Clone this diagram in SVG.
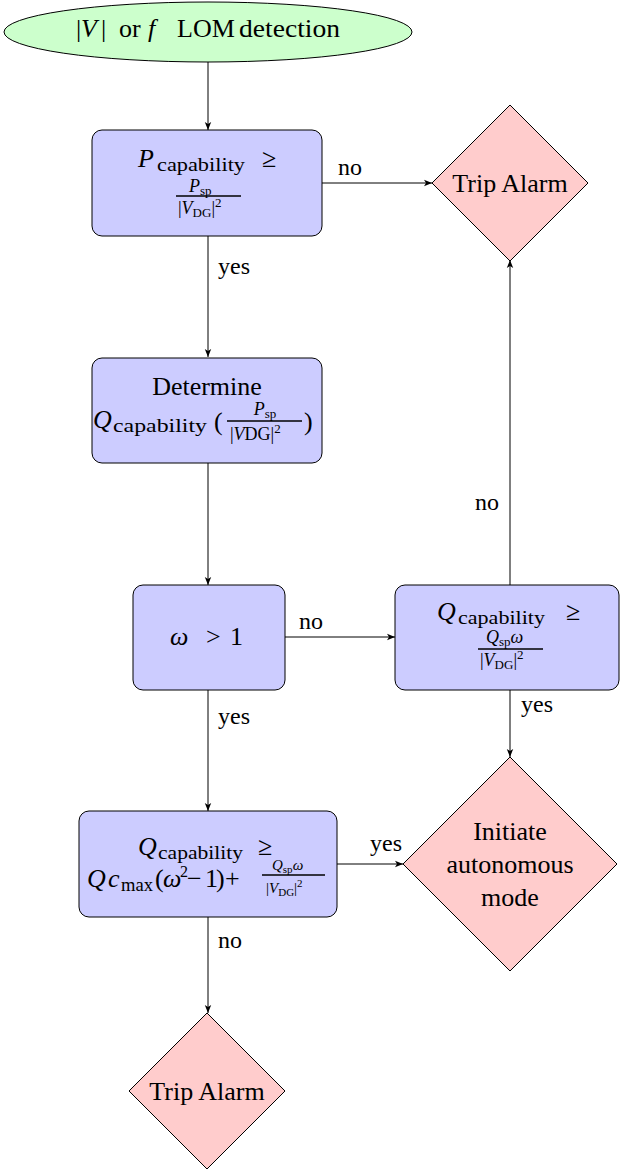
<svg xmlns="http://www.w3.org/2000/svg" width="621" height="1172" viewBox="0 0 621 1172">
<style>
.t{font-family:"Liberation Serif","Times New Roman",serif;font-size:26px;fill:#000}
.m{font-family:"Liberation Serif","Times New Roman",serif;fill:#000}
.i{font-style:italic}
.box{fill:#ccccff;stroke:#000;stroke-width:1}
.dia{fill:#ffcccc;stroke:#000;stroke-width:1}
.edge{fill:none;stroke:#000;stroke-width:1}
.bar{stroke:#000;stroke-width:1.4}
.lbl{font-family:"Liberation Serif","Times New Roman",serif;font-size:24px;fill:#000}
</style>
<defs>
<marker id="arr" viewBox="0 0 10 10" refX="10" refY="5" markerWidth="8" markerHeight="8" markerUnits="userSpaceOnUse" orient="auto">
<path d="M0,1 L10,5 L0,9 L2.5,5 Z" fill="#000"/>
</marker>
</defs>
<rect width="621" height="1172" fill="#fff"/>

<g id="connectors">
<path class="edge" d="M208,62 L208,130" marker-end="url(#arr)"/>
<path class="edge" d="M322,183 L432,183" marker-end="url(#arr)"/>
<text class="lbl" x="350" y="175" text-anchor="middle">no</text>
<path class="edge" d="M208,236 L208,357" marker-end="url(#arr)"/>
<text class="lbl" x="234" y="274" text-anchor="middle">yes</text>
<path class="edge" d="M208,463 L208,585" marker-end="url(#arr)"/>
<path class="edge" d="M285,637 L395,637" marker-end="url(#arr)"/>
<text class="lbl" x="311" y="629" text-anchor="middle">no</text>
<path class="edge" d="M510,585 L510,260" marker-end="url(#arr)"/>
<text class="lbl" x="487" y="510" text-anchor="middle">no</text>
<path class="edge" d="M510,690 L510,757" marker-end="url(#arr)"/>
<text class="lbl" x="537" y="712" text-anchor="middle">yes</text>
<path class="edge" d="M208,690 L208,811" marker-end="url(#arr)"/>
<text class="lbl" x="234" y="724" text-anchor="middle">yes</text>
<path class="edge" d="M337,864 L403,864" marker-end="url(#arr)"/>
<text class="lbl" x="386" y="851" text-anchor="middle">yes</text>
<path class="edge" d="M208,917 L208,1013" marker-end="url(#arr)"/>
<text class="lbl" x="230" y="948" text-anchor="middle">no</text>
</g>

<g id="start">
<ellipse cx="208" cy="32" rx="204" ry="30" fill="#ccffcc" stroke="#000" stroke-width="1"/>
<text class="t" y="37"><tspan x="76">|</tspan><tspan class="i" x="81">V</tspan><tspan x="101">|</tspan><tspan x="119">or</tspan><tspan class="i" x="148">f</tspan><tspan x="177">LOM</tspan><tspan x="239" textLength="101" lengthAdjust="spacingAndGlyphs">detection</tspan></text>
</g>

<g id="check_p">
<rect class="box" x="92" y="130" width="230" height="106" rx="10"/>
<text class="m i" x="138" y="167" font-size="26">P</text>
<text class="m" x="157" y="171" font-size="19" textLength="88" lengthAdjust="spacingAndGlyphs">capability</text>
<text class="m" x="262" y="167" font-size="26">≥</text>
<text class="m" y="192" font-size="18"><tspan class="i" x="189">P</tspan><tspan font-size="13" dy="3">sp</tspan></text>
<line class="bar" x1="176" y1="196" x2="241" y2="196"/>
<text class="m" y="214" font-size="18"><tspan x="178">|</tspan><tspan class="i">V</tspan><tspan font-size="13" dy="3">DG</tspan><tspan dy="-3">|</tspan><tspan font-size="13" dy="-7">2</tspan></text>
</g>

<g id="trip_alarm_1">
<polygon class="dia" points="510,105 588,183 510,261 432,183"/>
<text class="t" x="510" y="192" text-anchor="middle">Trip Alarm</text>
</g>

<g id="determine_q">
<rect class="box" x="92" y="358" width="230" height="105" rx="10"/>
<text class="t" x="207" y="395" text-anchor="middle">Determine</text>
<text class="m i" x="93" y="428" font-size="26">Q</text>
<text class="m" x="113" y="432" font-size="19" textLength="94" lengthAdjust="spacingAndGlyphs">capability</text>
<text class="m" x="214" y="430" font-size="26">(</text>
<text class="m" y="415" font-size="18" text-anchor="middle"><tspan class="i" x="265">P</tspan><tspan font-size="13" dy="3">sp</tspan></text>
<line class="bar" x1="227" y1="421" x2="302" y2="421"/>
<text class="m" y="440" font-size="18"><tspan x="230">|</tspan><tspan class="i">V</tspan><tspan>DG|</tspan><tspan font-size="13" dy="-7">2</tspan></text>
<text class="m" x="304" y="430" font-size="26">)</text>
</g>

<g id="omega_check">
<rect class="box" x="133" y="585" width="152" height="105" rx="10"/>
<text class="m" y="645" font-size="26"><tspan class="i" x="170">ω</tspan><tspan x="206">&gt;</tspan><tspan x="230">1</tspan></text>
</g>

<g id="check_q">
<rect class="box" x="395" y="585" width="224" height="105" rx="10"/>
<text class="m i" x="437" y="620" font-size="26">Q</text>
<text class="m" x="458" y="624" font-size="19" textLength="87" lengthAdjust="spacingAndGlyphs">capability</text>
<text class="m" x="566" y="620" font-size="26">≥</text>
<text class="m" y="643" font-size="18"><tspan class="i" x="486">Q</tspan><tspan font-size="13" dy="3">sp</tspan><tspan class="i" dy="-3">ω</tspan></text>
<line class="bar" x1="478" y1="649" x2="543" y2="649"/>
<text class="m" y="666" font-size="18"><tspan x="480">|</tspan><tspan class="i">V</tspan><tspan font-size="13" dy="3">DG</tspan><tspan dy="-3">|</tspan><tspan font-size="13" dy="-7">2</tspan></text>
</g>

<g id="initiate_autonomous">
<polygon class="dia" points="510,757 617,864 510,971 403,864"/>
<text class="t" text-anchor="middle"><tspan x="510" y="840">Initiate</tspan><tspan x="510" y="873">autonomous</tspan><tspan x="510" y="906">mode</tspan></text>
</g>

<g id="check_qc">
<rect class="box" x="79" y="811" width="258" height="106" rx="10"/>
<text class="m i" x="138" y="855" font-size="26">Q</text>
<text class="m" x="158" y="859" font-size="19" textLength="85" lengthAdjust="spacingAndGlyphs">capability</text>
<text class="m" x="258" y="855" font-size="26">≥</text>
<text class="m" y="887" font-size="26"><tspan class="i" x="87">Q</tspan><tspan class="i" x="108">c</tspan><tspan x="121" dy="4" font-size="18" textLength="32" lengthAdjust="spacingAndGlyphs">max</tspan><tspan x="155" dy="-4">(</tspan><tspan class="i" x="163">ω</tspan><tspan x="180" dy="-10" font-size="16">2</tspan><tspan x="187" dy="10">−</tspan><tspan x="205">1</tspan><tspan x="216">)</tspan><tspan x="225">+</tspan></text>
<text class="m" y="870" font-size="15"><tspan class="i" x="272">Q</tspan><tspan font-size="11" dy="3">sp</tspan><tspan class="i" dy="-3">ω</tspan></text>
<line class="bar" x1="262" y1="875" x2="325" y2="875"/>
<text class="m" y="893" font-size="15"><tspan x="266">|</tspan><tspan class="i">V</tspan><tspan font-size="11" dy="3">DG</tspan><tspan dy="-3">|</tspan><tspan font-size="11" dy="-6">2</tspan></text>
</g>

<g id="trip_alarm_2">
<polygon class="dia" points="207,1013 285,1091 207,1169 129,1091"/>
<text class="t" x="207" y="1100" text-anchor="middle">Trip Alarm</text>
</g>
</svg>
